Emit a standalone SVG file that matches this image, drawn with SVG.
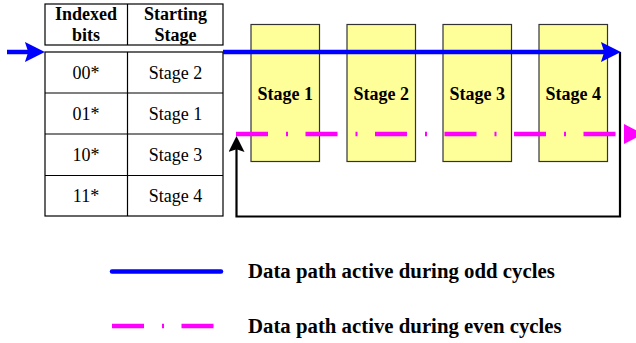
<svg xmlns="http://www.w3.org/2000/svg" width="636" height="343" viewBox="0 0 636 343">
<style>
.bg{fill:#ffffff}
.cell{fill:#ffffff;stroke:#000000;stroke-width:1.2}
.stage{fill:#ffff99;stroke:#333333;stroke-width:1.2}
.t{font-family:"Liberation Serif","Times New Roman",serif;font-size:18px;fill:#000000;text-anchor:middle}
.b{font-weight:bold}
.lg{font-family:"Liberation Serif","Times New Roman",serif;font-size:20.8px;font-weight:bold;fill:#000000}
.odd{fill:none;stroke:#0000ff;stroke-width:4.5}
.even{fill:none;stroke:#ff00ff;stroke-width:4.5;stroke-dasharray:32 18 2 17.5}
.back{fill:none;stroke:#000000;stroke-width:2.2}
</style>
<defs>
<marker id="ab" markerUnits="userSpaceOnUse" markerWidth="20" markerHeight="20" viewBox="0 0 18 18" refX="10" refY="9" orient="auto"><path d="M0,0 L18,9 L0,18 L3,9 z" fill="#0000ff"/></marker>
<marker id="am" markerUnits="userSpaceOnUse" markerWidth="20" markerHeight="20" viewBox="0 0 18 18" refX="0" refY="9" orient="auto"><path d="M0,0 L17,9 L0,18 z" fill="#ff00ff"/></marker>
<marker id="ak" markerUnits="userSpaceOnUse" markerWidth="16" markerHeight="16" viewBox="0 0 14 14" refX="7" refY="7" orient="auto"><path d="M0,0 L14,7 L0,14 L2.5,7 z" fill="#000000"/></marker>
</defs>
<rect class="bg" x="0" y="0" width="636" height="343"/>

<g id="table">
<rect class="cell" x="45" y="4" width="178" height="41"/>
<line class="cell" x1="127.5" y1="4" x2="127.5" y2="45"/>
<text class="t b" x="86" y="19.5">Indexed</text>
<text class="t b" x="86" y="40.5">bits</text>
<text class="t b" x="175.5" y="19.5">Starting</text>
<text class="t b" x="175.5" y="40.5">Stage</text>
<rect class="cell" x="45" y="52" width="178" height="164"/>
<line class="cell" x1="127.5" y1="52" x2="127.5" y2="216"/>
<line class="cell" x1="45" y1="93" x2="223" y2="93"/>
<line class="cell" x1="45" y1="134" x2="223" y2="134"/>
<line class="cell" x1="45" y1="175.5" x2="223" y2="175.5"/>
<text class="t" x="86" y="78.5">00*</text>
<text class="t" x="175.5" y="78.5">Stage 2</text>
<text class="t" x="86" y="119.5">01*</text>
<text class="t" x="175.5" y="119.5">Stage 1</text>
<text class="t" x="86" y="160.5">10*</text>
<text class="t" x="175.5" y="160.5">Stage 3</text>
<text class="t" x="86" y="201.5">11*</text>
<text class="t" x="175.5" y="201.5">Stage 4</text>
</g>

<g id="stage1"><rect class="stage" x="251" y="24.5" width="68.5" height="137"/><text class="t b" x="285.2" y="99.5">Stage 1</text></g>
<g id="stage2"><rect class="stage" x="347" y="24.5" width="68.5" height="137"/><text class="t b" x="381.2" y="99.5">Stage 2</text></g>
<g id="stage3"><rect class="stage" x="443" y="24.5" width="68.5" height="137"/><text class="t b" x="477.2" y="99.5">Stage 3</text></g>
<g id="stage4"><rect class="stage" x="539" y="24.5" width="68.5" height="137"/><text class="t b" x="573.2" y="99.5">Stage 4</text></g>

<g id="connectors">
<path class="odd" d="M7,52 H36" marker-end="url(#ab)"/>
<path class="back" d="M620,52 V216.5 H236.5 V144" marker-end="url(#ak)"/>
<path class="odd" d="M223,52 H612" marker-end="url(#ab)"/>
<path class="even" d="M236,134 H624" marker-end="url(#am)"/>
</g>

<g id="legend">
<line class="odd" x1="112" y1="271.5" x2="221" y2="271.5" stroke-linecap="round"/>
<text class="lg" x="248" y="277.5">Data path active during odd cycles</text>
<line class="even" x1="112" y1="326" x2="214" y2="326"/>
<text class="lg" x="248" y="332.5">Data path active during even cycles</text>
</g>
</svg>
